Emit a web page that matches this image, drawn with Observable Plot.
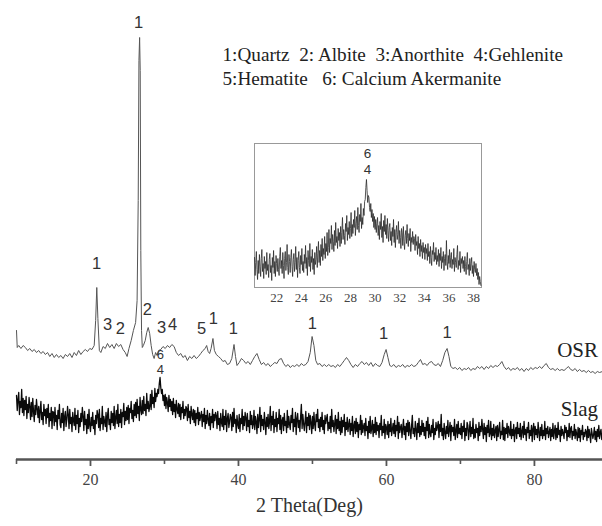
<!DOCTYPE html>
<html>
<head>
<meta charset="utf-8">
<script src="https://cdn.jsdelivr.net/npm/d3@7"></script>
<script src="https://cdn.jsdelivr.net/npm/@observablehq/plot@0.6"></script>
<style>
  html, body { margin: 0; padding: 0; background: #fff; }
  #wrap { position: relative; width: 602px; height: 526px; overflow: hidden; }
  #main { position: absolute; left: 0; top: 0; }
  #inset { position: absolute; left: 248px; top: 139px; }
</style>
</head>
<body>
<div id="wrap"><div id="main"></div><div id="inset"></div></div>
<script>
// ---------- data ----------
// OSR pattern: 2θ (deg) and intensity (a.u., stacked offset included)
const osrTheta = [10.0,10.1,10.3,10.6,10.9,11.2,11.5,11.8,12.1,12.4,12.7,13.0,13.3,13.6,13.9,14.2,14.5,14.8,15.1,15.4,15.7,16.0,16.3,16.6,16.9,17.2,17.5,17.8,18.1,18.4,18.7,19.0,19.3,19.6,19.9,20.2,20.5,20.7,20.85,21.0,21.2,21.4,21.7,22.0,22.3,22.6,22.9,23.2,23.5,23.8,24.1,24.4,24.7,24.95,25.2,25.5,25.8,26.1,26.3,26.45,26.55,26.64,26.72,26.8,26.9,27.0,27.15,27.4,27.6,27.8,28.0,28.2,28.4,28.6,28.8,29.0,29.2,29.5,29.8,30.1,30.4,30.7,31.0,31.3,31.6,31.9,32.2,32.5,32.8,33.1,33.4,33.7,34.0,34.3,34.6,34.9,35.2,35.5,35.7,35.9,36.1,36.3,36.55,36.75,37.0,37.3,37.6,37.9,38.2,38.5,38.8,39.1,39.4,39.6,39.8,40.1,40.4,40.7,41.0,41.3,41.6,41.9,42.2,42.5,42.8,43.1,43.4,43.7,44.0,44.3,44.6,44.9,45.2,45.5,45.8,46.1,46.4,46.7,47.0,47.3,47.6,47.9,48.2,48.5,48.8,49.1,49.4,49.7,49.95,50.2,50.45,50.7,51.0,51.3,51.6,51.9,52.2,52.5,52.8,53.1,53.4,53.7,54.0,54.3,54.6,54.9,55.2,55.5,55.8,56.1,56.4,56.7,57.0,57.3,57.6,57.9,58.2,58.5,58.8,59.1,59.4,59.7,59.95,60.2,60.45,60.7,61.0,61.3,61.6,61.9,62.2,62.5,62.8,63.1,63.4,63.7,64.0,64.3,64.6,64.9,65.2,65.5,65.8,66.1,66.4,66.7,67.0,67.3,67.6,67.9,68.2,68.45,68.7,69.0,69.3,69.6,69.9,70.2,70.5,70.8,71.1,71.4,71.7,72.0,72.3,72.6,72.9,73.2,73.5,73.8,74.1,74.4,74.7,75.0,75.3,75.6,75.9,76.2,76.5,76.8,77.1,77.4,77.7,78.0,78.3,78.6,78.9,79.2,79.5,79.8,80.1,80.4,80.7,81.0,81.3,81.6,81.9,82.2,82.5,82.8,83.1,83.4,83.7,84.0,84.3,84.6,84.9,85.2,85.5,85.8,86.1,86.4,86.7,87.0,87.3,87.6,87.9,88.2,88.5,88.8,89.2];
const osrCounts = [129,112,114,111,114,112,109,111,108,110,107,109,106,108,105,107,103,106,102,105,102,104,101,105,103,106,102,107,104,109,105,108,110,108,111,110,114,139,172,141,109,107,113,111,116,112,115,111,116,113,115,110,107,103,111,119,129,137,159,259,399,422,389,209,129,112,114,119,127,132,126,114,105,101,107,104,109,110,113,111,114,112,115,113,107,104,106,102,104,99,103,101,104,101,103,106,109,111,114,108,106,111,121,109,105,103,101,98,99,95,96,101,115,103,94,97,101,99,96,98,95,99,103,106,100,95,97,94,96,93,95,97,96,100,101,96,93,95,92,94,93,95,93,96,94,95,98,107,123,114,99,95,96,93,95,93,95,93,94,92,95,93,96,99,102,99,95,92,95,93,96,98,95,97,94,97,93,96,94,93,97,105,110,102,94,93,95,92,94,93,95,92,94,93,95,93,94,97,100,95,96,94,97,98,95,94,96,93,99,107,111,103,93,91,92,90,92,89,91,90,92,89,91,90,93,91,93,90,93,91,94,92,94,93,95,98,93,90,92,89,91,90,92,89,91,88,91,89,92,90,92,91,93,91,94,96,92,90,91,89,91,89,90,89,91,93,90,89,91,88,90,88,89,87,89,87,88,86,88,87,88];

// Slag pattern: uniform scan (start / step in 2θ deg), intensity (a.u.), one row per degree
const slagStart = 10.0, slagStep = 0.1;
const slagCounts = [
 64,49,60,67,45,58,52,70,47,61, 44,59,50,63,41,55,47,62,53,40,
 57,43,61,48,38,54,45,60,51,42, 53,37,49,58,40,47,35,55,44,50,
 36,51,42,55,33,46,39,52,31,48, 47,34,52,38,44,30,49,41,55,35,
 32,46,37,51,29,43,48,33,40,53, 45,31,50,36,42,28,47,39,34,51,
 30,44,36,49,27,41,33,46,38,52, 43,29,48,35,40,26,45,31,50,34,
 28,42,34,47,31,39,25,44,36,49, 45,32,50,29,41,36,53,30,43,38,
 33,47,28,44,51,35,40,30,48,37, 46,34,53,31,42,49,36,55,33,45,
 37,50,32,47,43,56,35,48,39,52, 40,54,36,51,47,58,41,49,38,55,
 44,57,42,60,46,53,39,62,50,45, 59,46,63,49,55,44,66,51,58,48,
 53,65,50,69,56,62,52,71,58,66, 63,70,66,76,82,72,66,70,59,64,
 54,65,51,62,57,48,64,53,60,49, 58,45,61,48,55,42,59,50,46,56,
 43,55,40,52,47,58,41,50,44,53, 51,39,55,42,48,36,53,45,40,50,
 37,49,34,46,41,52,35,47,39,44, 48,33,45,38,51,31,44,36,49,40,
 34,46,30,43,37,50,32,45,39,47, 44,31,48,35,41,29,46,37,33,50,
 30,43,35,49,28,41,46,32,38,45, 42,29,47,33,51,36,40,27,44,35,
 31,45,28,41,36,50,30,43,34,47, 42,29,46,33,39,27,48,35,44,31,
 35,49,30,43,38,26,45,32,41,52, 28,44,34,40,30,47,37,25,42,33,
 45,31,38,53,29,43,35,48,27,40, 33,47,28,41,36,50,30,44,26,39,
 42,29,46,34,38,27,49,32,43,35, 30,44,37,51,28,40,33,47,25,41,
 46,32,39,28,43,55,31,45,36,29, 38,48,27,42,34,46,30,44,37,26,
 43,31,47,35,29,45,38,50,32,40, 28,42,33,47,30,39,26,44,36,41,
 45,29,37,31,43,27,50,33,39,28, 36,44,26,40,31,47,29,38,25,42,
 27,39,33,45,24,37,30,42,28,35, 40,25,36,29,43,23,34,38,26,41,
 28,37,22,35,30,44,25,39,27,33, 36,24,41,29,33,21,38,27,43,26,
 31,39,23,35,27,42,25,37,29,34, 22,36,30,44,24,33,27,40,21,35,
 32,25,38,22,35,28,41,24,30,36, 26,39,23,34,29,43,21,37,27,32,
 35,22,31,40,25,33,20,36,28,39, 24,37,29,21,34,44,26,31,23,38,
 30,20,36,27,41,23,33,25,39,28, 36,24,32,21,38,29,42,22,35,26,
 23,34,27,40,20,31,25,37,29,33, 38,22,35,28,45,24,31,20,36,27,
 21,33,26,39,23,30,37,19,34,28, 32,24,40,20,29,35,22,38,26,31,
 25,36,21,33,28,39,19,31,24,37, 34,20,29,38,23,32,26,41,21,30,
 22,35,27,31,19,37,24,33,28,40, 30,21,36,25,32,18,34,27,39,23,
 26,38,20,31,24,35,22,29,33,19, 34,23,30,37,21,28,25,39,20,32,
 19,31,26,36,22,33,28,24,38,21, 30,24,35,18,29,32,21,37,26,31,
 23,36,20,28,33,22,38,25,30,19, 32,27,37,21,29,24,34,18,31,36,
 20,33,25,30,22,37,27,19,32,24, 35,21,29,24,38,20,31,26,33,22,
 27,32,19,30,23,36,21,28,34,20, 31,22,37,25,29,18,33,24,30,26,
 21,34,27,32,19,29,23,36,22,31, 33,20,28,24,35,21,30,26,19,32,
 22,31,18,29,25,34,20,27,23,30, 28,19,33,22,30,24,17,31,26,21,
 25,32,20,28,18,30,23,34,21,27, 30,20,26];

// Inset: Slag detail, 2θ 20.2–38.6, uniform scan
const insetStart = 20.2, insetStep = 0.05;
const insetCounts = [
 30,12,25,36,18,8,27,14,33,21,11,29,38,16,24,9,31,19,26,13,
 35,17,23,10,28,34,15,22,7,30,20,37,14,26,11,32,24,16,29,18,
 12,31,40,19,27,14,35,22,9,29,36,17,25,43,20,13,33,26,15,30,
 38,21,11,28,34,16,25,41,18,30,10,27,36,20,14,32,23,39,17,26,
 15,33,24,42,19,30,12,37,27,21,44,16,31,25,38,18,29,13,35,23,
 28,41,20,34,46,25,37,22,43,31,49,27,39,33,51,29,44,36,55,32,
 40,58,35,49,44,62,38,53,46,36,57,42,65,45,51,39,59,47,55,41,
 61,44,55,70,48,58,52,43,64,56,72,47,60,53,66,49,59,75,51,63,
 54,68,60,77,52,64,71,58,80,62,55,73,66,84,59,70,63,79,72,86,
 88,100,108,97,85,92,90,80,76,84,70,78,66,74,60,71,58,68,55,64,
 70,52,62,48,66,58,74,50,61,45,67,56,72,53,63,49,69,57,46,60,
 64,47,56,42,60,51,68,45,58,40,55,62,48,53,66,44,57,50,39,59,
 55,42,61,46,38,52,57,44,63,49,41,54,47,59,36,50,45,56,43,51,
 49,37,53,42,46,33,51,39,44,31,48,36,42,29,45,35,40,28,43,34,
 39,27,44,31,36,24,41,30,22,37,33,45,26,35,28,40,23,32,26,38,
 21,34,27,40,19,31,25,36,17,29,33,22,47,26,18,32,24,38,20,30,
 35,19,28,23,39,16,30,25,20,33,42,18,27,22,36,15,29,24,31,19,
 27,16,31,21,13,26,35,18,23,12,29,17,24,30,14,22,11,26,18,15,
 24,12,19,8,15,3,11,6,2];

// Phase labels on peaks (2θ, intensity a.u., phase number)
const peakTheta = [26.49, 20.81, 22.3, 24.05, 27.7, 29.6, 31.1, 35.0, 36.6, 39.3, 50.0, 59.6, 68.2];
const peakLevel = [437, 196, 135, 131, 150, 132, 135, 131, 141, 131, 136, 126, 127];
const peakText  = ["1","1","3","2","2","3","4","5","1","1","1","1","1"];
const slagPeakTheta = [29.46, 29.46];
const slagPeakLevel = [105, 90];
const slagPeakText = ["6", "4"];

const insetLabelTheta = [29.39, 29.39];
const insetLabelLevel = [134, 118];
const insetLabelText = ["6", "4"];

const seriesNames = ["OSR", "Slag"];
const seriesLabelTheta = [88.6, 88.6];
const seriesLabelLevel = [109, 50];

const legendLines = [
  "1:Quartz\u00a0\u00a02: Albite\u00a0\u00a03:Anorthite\u00a0\u00a04:Gehlenite",
  "5:Hematite\u00a0\u00a0\u00a06: Calcium Akermanite"
];
const majorTicks = [20, 40, 60, 80];
const minorTicks = [10, 30, 50, 70];
const insetTicks = [22, 24, 26, 28, 30, 32, 34, 36, 38];
const xTitle = "2 Theta(Deg)";

// ---------- tables ----------
const osr = osrTheta.map((t, i) => ({t, v: osrCounts[i]}));
const slag = slagCounts.map((v, i) => ({t: slagStart + i * slagStep, v}));
const inset = insetCounts.map((v, i) => ({t: insetStart + i * insetStep, v}));
const peaks = peakTheta.map((t, i) => ({t, v: peakLevel[i], s: peakText[i]}));
const slagPeaks = slagPeakTheta.map((t, i) => ({t, v: slagPeakLevel[i], s: slagPeakText[i]}));
const insetLabels = insetLabelTheta.map((t, i) => ({t, v: insetLabelLevel[i], s: insetLabelText[i]}));
const seriesLabels = seriesNames.map((s, i) => ({t: seriesLabelTheta[i], v: seriesLabelLevel[i], s}));

const serif = "Liberation Serif, Times New Roman, serif";
const sans = "Liberation Sans, Arial, sans-serif";

// ---------- main chart ----------
const main = Plot.plot({
  width: 602, height: 526,
  marginLeft: 16, marginRight: 0, marginTop: 0, marginBottom: 67,
  style: {fontFamily: serif, background: "transparent", overflow: "visible"},
  x: {domain: [10, 89.2], label: null},
  y: {domain: [0, 459], axis: null},
  marks: [
    Plot.line(slag, {x: "t", y: "v", stroke: "#0a0a0a", strokeWidth: 1.3}),
    Plot.line(osr, {x: "t", y: "v", stroke: "#555", strokeWidth: 1}),
    Plot.ruleY([0], {stroke: "#555", strokeWidth: 2.5}),
    Plot.axisX({ticks: minorTicks, tickSize: 5, tickFormat: () => "", stroke: "#555", strokeWidth: 1.6}),
    Plot.axisX({ticks: majorTicks, tickSize: 7, tickPadding: 7, stroke: "#555", strokeWidth: 1.8,
      fontSize: 16, fill: "#444", fontFamily: serif, tickFormat: d => String(d)}),
    Plot.text([xTitle], {frameAnchor: "bottom", dy: 52, fontSize: 20, fill: "#333", fontFamily: serif}),
    Plot.text(peaks, {x: "t", y: "v", text: "s", fontSize: 16.5, fill: "#333", fontFamily: sans}),
    Plot.text(slagPeaks, {x: "t", y: "v", text: "s", fontSize: 13, fill: "#333", fontFamily: sans}),
    Plot.text(seriesLabels, {x: "t", y: "v", text: "s", textAnchor: "end", fontSize: 21, fill: "#222", fontFamily: serif}),
    Plot.text([legendLines[0]], {frameAnchor: "top-left", dx: 206, dy: 47, textAnchor: "start", fontSize: 19.2, fill: "#222", fontFamily: serif}),
    Plot.text([legendLines[1]], {frameAnchor: "top-left", dx: 206, dy: 71, textAnchor: "start", fontSize: 19.2, fill: "#222", fontFamily: serif})
  ]
});
document.getElementById("main").append(main);

// ---------- inset ----------
const ins = Plot.plot({
  width: 240, height: 168,
  marginLeft: 6, marginRight: 7, marginTop: 4, marginBottom: 20,
  style: {fontFamily: serif, background: "transparent", overflow: "visible"},
  x: {domain: [20.2, 38.65], label: null},
  y: {domain: [0, 144], axis: null},
  marks: [
    Plot.frame({stroke: "#999", strokeWidth: 1, fill: "#fff"}),
    Plot.line(inset, {x: "t", y: "v", stroke: "#2a2a2a", strokeWidth: 0.8}),
    Plot.axisX({ticks: insetTicks, tickSize: 0, tickPadding: 5, fontSize: 13, fill: "#444", fontFamily: serif, tickFormat: d => String(d)}),
    Plot.text(insetLabels, {x: "t", y: "v", text: "s", fontSize: 13.5, fill: "#333", fontFamily: sans})
  ]
});
document.getElementById("inset").append(ins);
</script>
</body>
</html>
